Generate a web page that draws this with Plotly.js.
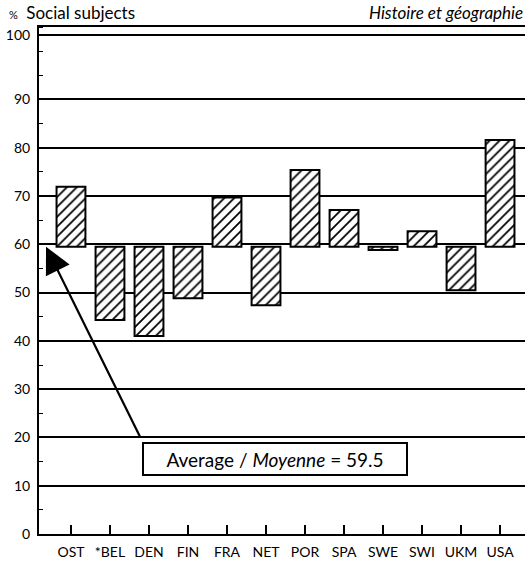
<!DOCTYPE html>
<html>
<head>
<meta charset="utf-8">
<script src="https://cdn.plot.ly/plotly-3.0.1.min.js"></script>
<style>html,body{margin:0;padding:0;background:#fff;}#chart{width:529px;height:564px;}</style>
</head>
<body>
<div id="chart"></div>
<script>
const countries = ["OST", "*BEL", "DEN", "FIN", "FRA", "NET", "POR", "SPA", "SWE", "SWI", "UKM", "USA"];
const scores = [71.9, 44.3, 41.0, 48.8, 69.7, 47.4, 75.4, 67.1, 58.8, 62.7, 50.5, 81.6];
const average = 59.5;
const yTickVals = [0, 10, 20, 30, 40, 50, 60, 70, 80, 90, 103.3];
const yTickText = ["0", "10", "20", "30", "40", "50", "60", "70", "80", "90", "100"];

const FONT = "Lato, 'Noto Sans', sans-serif";

const trace = {
  type: "bar",
  x: countries,
  y: scores.map(v => v - average),
  base: scores.map(() => average),
  width: 0.74,
  marker: {
    color: "#ffffff",
    line: {color: "#000", width: 2},
    pattern: {shape: "/", fgcolor: "#000", bgcolor: "#fff", size: 7, solidity: 0.25}
  },
  hoverinfo: "skip"
};

const layout = {
  width: 529, height: 564,
  margin: {l: 39, r: 4, t: 27, b: 30},
  paper_bgcolor: "#fff", plot_bgcolor: "#fff",
  showlegend: false,
  font: {family: FONT, color: "#000", size: 13},
  title: {
    text: "%   <span style='font-size:17px'>Social subjects</span>",
    x: 0.017, xanchor: "left", xref: "container",
    y: 0.973, yanchor: "middle", yref: "container",
    font: {family: FONT, size: 11, color: "#000"}
  },
  xaxis: {
    type: "category",
    range: [-0.82, 11.64],
    showgrid: false,
    showline: true, linecolor: "#000", linewidth: 2, mirror: true,
    ticks: "inside", ticklen: 9, tickwidth: 2, tickcolor: "#000",
    ticklabelstandoff: 4,
    tickfont: {family: FONT, size: 14},
    fixedrange: true
  },
  yaxis: {
    range: [0, 105],
    tickvals: yTickVals, ticktext: yTickText,
    showgrid: true, gridcolor: "#000", gridwidth: 2,
    showline: true, linecolor: "#000", linewidth: 2,
    ticks: "", ticklabelstandoff: 4,
    minor: {dtick: 5, ticks: "inside", ticklen: 4, tickcolor: "#000", showgrid: false},
    zeroline: false,
    tickfont: {family: FONT, size: 14},
    fixedrange: true
  },
  annotations: [
    {
      text: "Histoire et géographie",
      xref: "paper", yref: "paper", x: 1, y: 1.028,
      xanchor: "right", yanchor: "middle", showarrow: false,
      font: {family: FONT, size: 17, color: "#000", style: "italic"}
    },
    {
      text: "",
      xref: "x", yref: "y", x: -0.64, y: average,
      ax: 95, ay: 192, axref: "pixel", ayref: "pixel",
      showarrow: true, arrowhead: 2, arrowsize: 2.4, arrowwidth: 2.2, arrowcolor: "#000",
      standoff: 0
    },
    {
      text: "Average / <i>Moyenne</i> = 59.5",
      xref: "x", yref: "y", x: 5.23, y: 15.5,
      xanchor: "center", yanchor: "middle", showarrow: false,
      width: 260, height: 28,
      bgcolor: "#fff", bordercolor: "#000", borderwidth: 2, borderpad: 1,
      font: {family: FONT, size: 19, color: "#000"}
    }
  ]
};

Plotly.newPlot("chart", [trace], layout, {staticPlot: true, displayModeBar: false});
</script>
</body>
</html>
